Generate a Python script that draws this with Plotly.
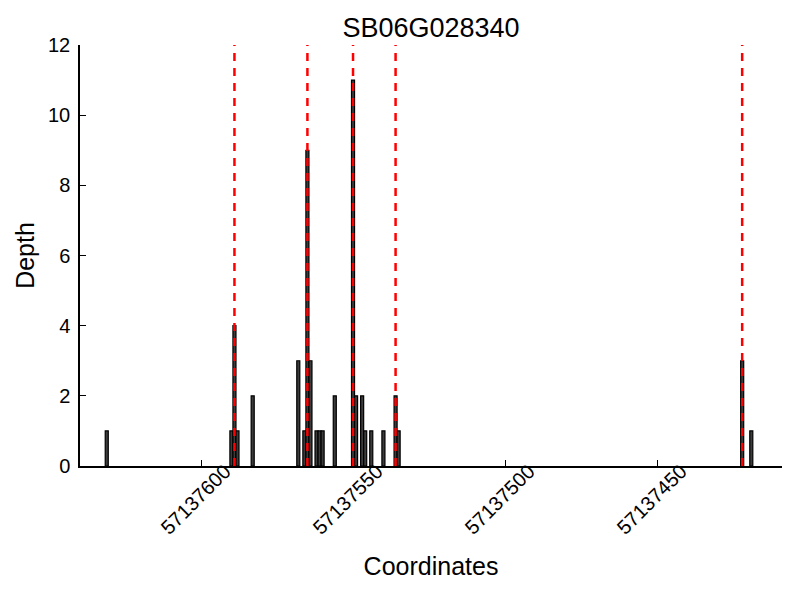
import plotly.graph_objects as go

positions = [57137631, 57137590, 57137589, 57137588, 57137583, 57137568, 57137566,
             57137565, 57137564, 57137562, 57137561, 57137560, 57137556, 57137550,
             57137549, 57137547, 57137546, 57137544, 57137540, 57137536, 57137535,
             57137422, 57137419]
depths = [1, 1, 4, 1, 2, 3, 1, 9, 3, 1, 1, 1, 2, 11, 2, 2, 1, 1, 1, 2, 1, 3, 1]
marker_positions = [57137589, 57137565, 57137550, 57137536, 57137422]
tick_values = [57137600, 57137550, 57137500, 57137450]
tick_labels = [str(v) for v in tick_values]
title = "SB06G028340"

font = "Liberation Sans, Arial, sans-serif"

fig = go.Figure()
fig.add_trace(go.Bar(
    x=positions, y=depths, width=1,
    marker=dict(color="#3c3c3c", line=dict(color="black", width=1.2)),
    showlegend=False,
))

for p in marker_positions:
    fig.add_shape(type="line", xref="x", yref="paper", x0=p, x1=p, y0=0, y1=1,
                  line=dict(color="#ff0000", width=2.5, dash="8px,7px"), layer="above")

fig.update_layout(
    width=800, height=600,
    paper_bgcolor="white", plot_bgcolor="white",
    margin=dict(l=72, r=26, t=37, b=142),
    font=dict(family=font, color="black"),
    title=dict(text=title, x=0.5, xref="paper", xanchor="center",
               y=0.967, yref="container", yanchor="middle",
               font=dict(size=27, family=font, color="black")),
    xaxis=dict(
        range=[57137639.8, 57137408.9], automargin=False,
        tickvals=tick_values, ticktext=tick_labels,
        tickangle=-45, ticks="inside", ticklen=6, tickwidth=1, tickcolor="black",
        showline=True, linecolor="black", linewidth=1.5,
        showgrid=False, zeroline=False,
        tickfont=dict(size=20, family=font, color="black"),
        ticklabelshift=-24, ticklabelstandoff=-16,
        title=dict(text="Coordinates", font=dict(size=25, family=font, color="black"),
                   standoff=20),
    ),
    yaxis=dict(
        range=[0, 12], tickvals=[0, 2, 4, 6, 8, 10, 12], automargin=False,
        ticks="inside", ticklen=6, tickwidth=1, tickcolor="black",
        showline=True, linecolor="black", linewidth=1.5,
        showgrid=False, zeroline=False,
        tickfont=dict(size=20, family=font, color="black"),
        ticklabelstandoff=4,
        title=dict(text="Depth", font=dict(size=25, family=font, color="black"),
                   standoff=6),
    ),
)

fig.write_html("out.html")
